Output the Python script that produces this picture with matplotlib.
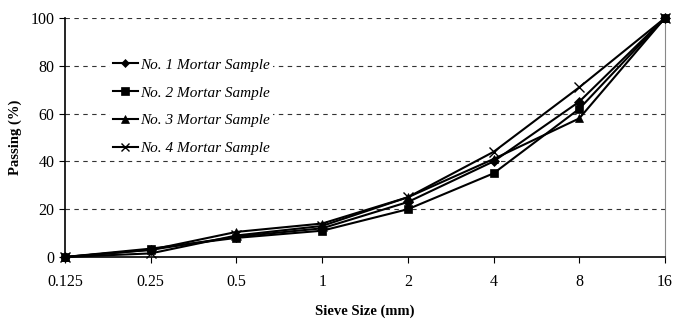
import matplotlib
matplotlib.use("Agg")
import matplotlib.pyplot as plt

sizes = ["0.125", "0.25", "0.5", "1", "2", "4", "8", "16"]
s1 = [0, 3, 8.5, 12, 23, 40, 65, 100]
s2 = [0, 3.5, 8, 11, 20, 35, 62, 100]
s3 = [0, 3, 10.5, 14, 25, 41, 58, 100]
s4 = [0, 1.5, 9, 13, 25, 44, 71, 100]
labels = ["No. 1 Mortar Sample", "No. 2 Mortar Sample", "No. 3 Mortar Sample", "No. 4 Mortar Sample"]
markers = ["D", "s", "^", "x"]
yticks = [0, 20, 40, 60, 80, 100]

plt.rcParams['font.family'] = ['Liberation Serif', 'DejaVu Serif']

fig = plt.figure(figsize=(6.84, 3.21), dpi=100)
ax = fig.add_axes([65/684, 1-257/321, (665-65)/684, (257-18)/321])

x = list(range(len(sizes)))
for vals, lab, m in zip([s1, s2, s3, s4], labels, markers):
    ms = 5 if m == "D" else 6
    if m == "x":
        ms = 7
    ax.plot(x, vals, color="black", lw=1.5, marker=m, markersize=ms,
            markeredgewidth=1.0 if m == "x" else 0.5, label=lab, clip_on=False, zorder=3)

ax.set_xlim(0, len(sizes) - 1)
ax.set_ylim(0, 100)
ax.set_xticks(x)
ax.set_xticklabels(sizes)
ax.set_yticks(yticks)
ax.tick_params(axis='both', labelsize=11.5, direction='out', length=4, color='black')
ax.tick_params(axis='x', pad=8)
for yv in yticks[1:]:
    ax.axhline(yv, color='#333333', lw=0.8, ls=(0, (4, 4)), zorder=1)
ax.spines['top'].set_visible(False)
ax.spines['right'].set_color('#888888')
ax.spines['left'].set_linewidth(1.2)
ax.spines['bottom'].set_linewidth(1.2)

ax.set_ylabel("Passing (%)", fontweight='bold', fontsize=10.5, labelpad=6)
ax.set_xlabel("Sieve Size (mm)", fontweight='bold', fontsize=10.5, labelpad=11)

leg = ax.legend(loc='upper left', bbox_to_anchor=(0.075, 0.845), frameon=True,
                fontsize=11, handlelength=1.6, handletextpad=0.2,
                labelspacing=0.92, borderpad=0.2, borderaxespad=0, markerscale=0.85)
leg.get_frame().set_edgecolor('none')
leg.get_frame().set_facecolor('white')
leg.get_frame().set_alpha(1)
leg.set_zorder(2)
for t in leg.get_texts():
    t.set_fontstyle('italic')

fig.savefig("out.png", dpi=100)
